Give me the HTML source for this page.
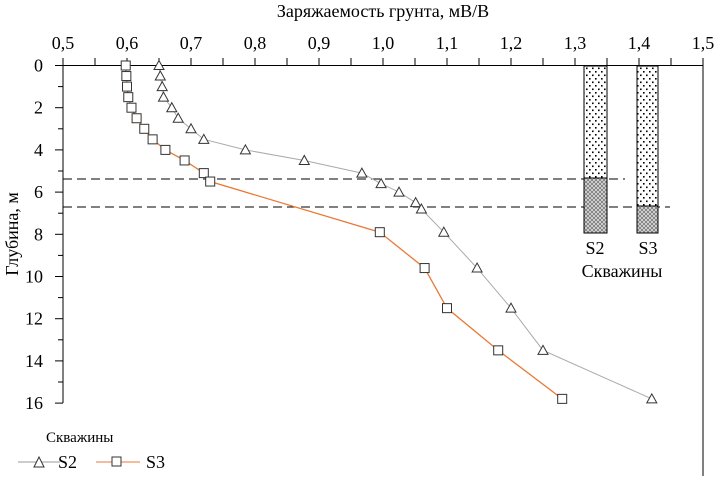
<!DOCTYPE html>
<html><head><meta charset="utf-8"><style>
body{margin:0;background:#fff;width:719px;height:476px;overflow:hidden}
svg{font-family:"Liberation Serif",serif;}
</style></head><body>
<svg id="s" width="719" height="476" xmlns="http://www.w3.org/2000/svg">
<defs>
<pattern id="dots" width="6" height="7" patternUnits="userSpaceOnUse"><rect width="6" height="7" fill="#fff"/><rect x="1" y="1" width="1.6" height="1.6" fill="#000"/><rect x="4" y="4.5" width="1.6" height="1.6" fill="#000"/></pattern>
<pattern id="hatch" width="4" height="4" patternUnits="userSpaceOnUse"><rect width="4" height="4" fill="#ccc"/><path d="M0,0L4,4M4,0L0,4" stroke="#444" stroke-width="0.5"/></pattern>
</defs>
<text x="383" y="17" font-size="18" text-anchor="middle">Заряжаемость грунта, мВ/В</text>
<text transform="translate(18,234) rotate(-90)" font-size="18" text-anchor="middle">Глубина, м</text>
<g id="g"></g>
<text x="46" y="442" font-size="15">Скважины</text>
<polyline points="18,462 60,462" stroke="#999" fill="none"/>
<path d="M34,467 L39,457 L44,467Z" fill="#fff" stroke="#333"/>
<text x="58" y="468" font-size="18">S2</text>
<polyline points="96,462 140,462" stroke="#e87a35" fill="none"/>
<rect x="112" y="457" width="9" height="9" fill="#fff" stroke="#333"/>
<text x="146" y="468" font-size="18">S3</text>
</svg>
<script>
const g=document.getElementById('g');let h='';
const X=v=>63+640*(v-0.5),Y=d=>65.5+21.1*d;
h+=`<line x1="63" y1="65.5" x2="703" y2="65.5" stroke="#000"/>`;
h+=`<line x1="63" y1="65.5" x2="63" y2="403" stroke="#000"/>`;
h+=`<line x1="703" y1="65.5" x2="703" y2="476" stroke="#000"/>`;
for(let i=0;i<=20;i++){let x=63+32*i;h+=`<line x1="${x}" y1="58" x2="${x}" y2="65.5" stroke="#000"/>`;}
for(let i=0;i<=10;i++){h+=`<text x="${63+64*i}" y="49" font-size="18" text-anchor="middle">${(0.5+i/10).toFixed(1).replace('.',',')}</text>`;}
for(let d=0;d<=16;d++){h+=`<line x1="${d%2?58:55}" y1="${Y(d)}" x2="63" y2="${Y(d)}" stroke="#000"/>`;if(d%2==0)h+=`<text x="43" y="${Y(d)+6}" font-size="18" text-anchor="end">${d}</text>`;}
h+=`<line x1="63" y1="179" x2="625" y2="179" stroke="#000" stroke-dasharray="9,5"/>`;
h+=`<line x1="63" y1="207" x2="670" y2="207" stroke="#000" stroke-dasharray="9,5"/>`;
h+=`<rect x="584" y="66" width="23" height="112" fill="url(#dots)" stroke="#000"/><rect x="584" y="178" width="23" height="55" fill="url(#hatch)" stroke="#000"/>`;
h+=`<rect x="637" y="66" width="21" height="140" fill="url(#dots)" stroke="#000"/><rect x="637" y="206" width="21" height="27" fill="url(#hatch)" stroke="#000"/>`;
h+=`<text x="595" y="254" font-size="18" text-anchor="middle">S2</text><text x="648" y="254" font-size="18" text-anchor="middle">S3</text><text x="622" y="277" font-size="18" text-anchor="middle">Скважины</text>`;
const s2=[[0.65,0],[0.652,0.5],[0.655,1],[0.657,1.5],[0.67,2],[0.68,2.5],[0.70,3],[0.72,3.5],[0.785,4],[0.877,4.5],[0.967,5.1],[0.997,5.6],[1.025,6],[1.051,6.5],[1.06,6.8],[1.095,7.9],[1.147,9.6],[1.20,11.5],[1.25,13.5],[1.42,15.8]];
const s3=[[0.598,0],[0.599,0.5],[0.6,1],[0.602,1.5],[0.607,2],[0.615,2.5],[0.627,3],[0.64,3.5],[0.66,4],[0.69,4.5],[0.72,5.1],[0.73,5.5],[0.995,7.9],[1.065,9.6],[1.10,11.5],[1.18,13.5],[1.28,15.8]];
h+=`<polyline fill="none" stroke="#aaa" points="${s2.map(p=>X(p[0])+','+Y(p[1])).join(' ')}"/>`;
h+=`<polyline fill="none" stroke="#e87a35" stroke-width="1.3" points="${s3.map(p=>X(p[0])+','+Y(p[1])).join(' ')}"/>`;
s2.forEach(p=>{let x=X(p[0]),y=Y(p[1]);h+=`<path d="M${x-5},${y+4}L${x},${y-5}L${x+5},${y+4}Z" fill="#fff" stroke="#333"/>`;});
s3.forEach(p=>{let x=X(p[0]),y=Y(p[1]);h+=`<rect x="${x-4.5}" y="${y-4.5}" width="9" height="9" fill="#fff" stroke="#333"/>`;});
g.innerHTML=h;
</script>
</body></html>
